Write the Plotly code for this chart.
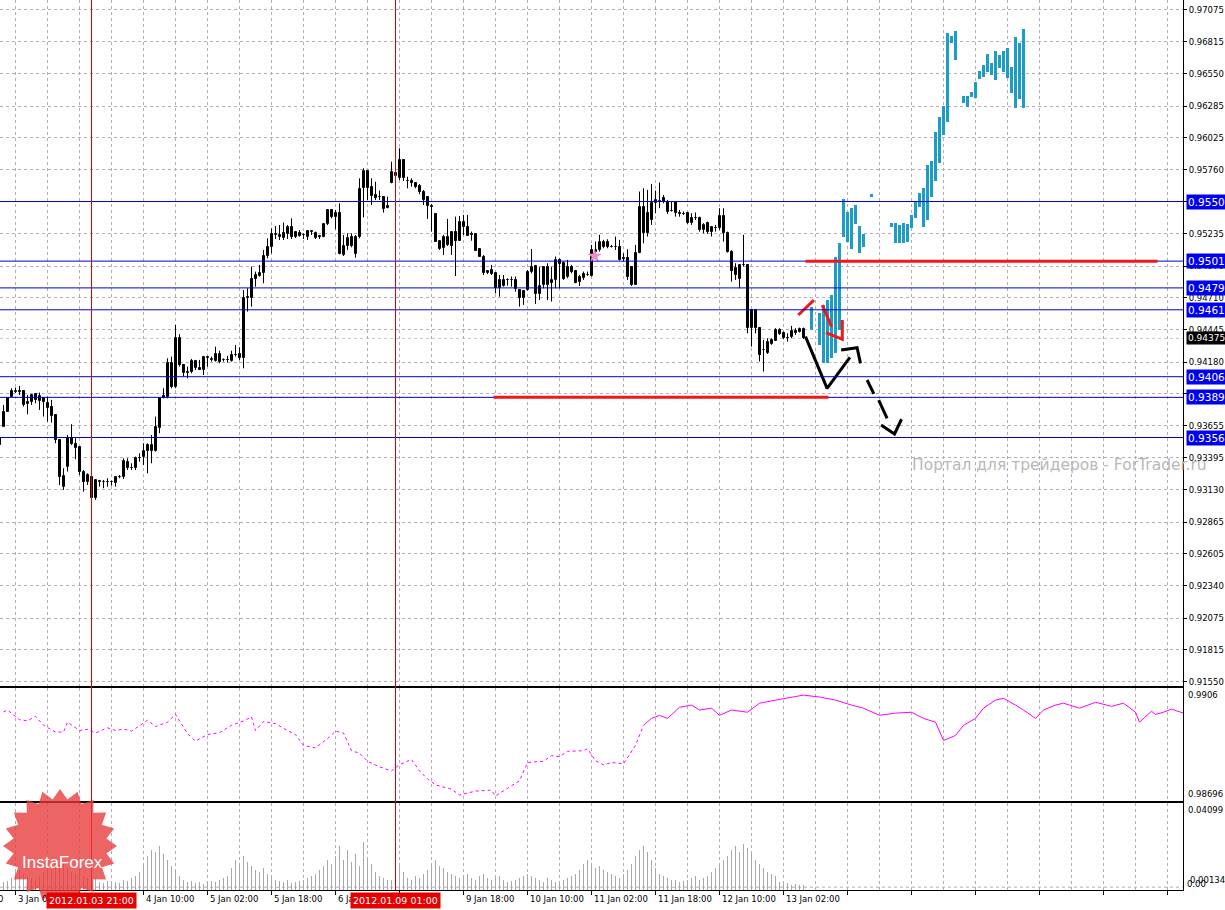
import numpy as np
import plotly.graph_objects as go

# ---------------- data ----------------
bar_idx = list(range(-4, 198))  # hourly bars, 0 = 3 Jan 02:00

opens = [0.93560, 0.93650, 0.93773, 0.93891, 0.93937, 0.93940, 0.93943, 0.93833, 0.93850, 0.93918, 0.93863,
         0.93888, 0.93841, 0.93814, 0.93746, 0.93540, 0.93156, 0.93321, 0.93554, 0.93507, 0.93485,
         0.93280, 0.93192, 0.93239, 0.93060, 0.93192, 0.93195, 0.93192, 0.93195, 0.93184, 0.93236,
         0.93233, 0.93362, 0.93307, 0.93307, 0.93395, 0.93403, 0.93450, 0.93499, 0.93450, 0.93636,
         0.93888, 0.93896, 0.94176, 0.93979, 0.94381, 0.94157, 0.94088, 0.94096, 0.94129, 0.94135,
         0.94115, 0.94211, 0.94200, 0.94192, 0.94247, 0.94198, 0.94195, 0.94192, 0.94239, 0.94247,
         0.94211, 0.94705, 0.94710, 0.94861, 0.94888, 0.94915, 0.95052, 0.95124, 0.95223, 0.95212,
         0.95198, 0.95233, 0.95288, 0.95206, 0.95244, 0.95225, 0.95211, 0.95253, 0.95244, 0.95214,
         0.95206, 0.95316, 0.95431, 0.95370, 0.95409, 0.95061, 0.95135, 0.95206, 0.95069, 0.95211,
         0.95609, 0.95751, 0.95622, 0.95554, 0.95535, 0.95535, 0.95444, 0.95650, 0.95713, 0.95691,
         0.95842, 0.95672, 0.95669, 0.95650, 0.95628, 0.95576, 0.95540, 0.95466, 0.95398, 0.95107,
         0.95116, 0.95211, 0.95135, 0.95253, 0.95178, 0.95335, 0.95288, 0.95231, 0.95231, 0.95107,
         0.95047, 0.94910, 0.94937, 0.94915, 0.94792, 0.94806, 0.94852, 0.94855, 0.94855, 0.94773,
         0.94705, 0.94773, 0.94924, 0.94970, 0.94741, 0.94815, 0.94965, 0.94828, 0.94856, 0.95020,
         0.94993, 0.94883, 0.94965, 0.94933, 0.94842, 0.94870, 0.94897, 0.94889, 0.95089, 0.95102,
         0.95130, 0.95171, 0.95130, 0.95125, 0.95125, 0.95034, 0.95034, 0.94965, 0.94815, 0.95075,
         0.95459, 0.95404, 0.95349, 0.95486, 0.95499, 0.95527, 0.95499, 0.95425, 0.95499, 0.95404,
         0.95398, 0.95404, 0.95322, 0.95368, 0.95363, 0.95267, 0.95322, 0.95253, 0.95281, 0.95281,
         0.95382, 0.95245, 0.95089, 0.94952, 0.94861, 0.94979, 0.94979, 0.94459, 0.94610, 0.94459,
         0.94280, 0.94253, 0.94330, 0.94357, 0.94445, 0.94423, 0.94376, 0.94384, 0.94439, 0.94431,
         0.94450]
highs = [0.93560, 0.93828, 0.93888, 0.93965, 0.93970, 0.93984, 0.93943, 0.93910, 0.93910, 0.93918, 0.93929,
         0.93888, 0.93896, 0.93869, 0.93746, 0.93540, 0.93307, 0.93581, 0.93669, 0.93554, 0.93485,
         0.93293, 0.93266, 0.93252, 0.93211, 0.93211, 0.93211, 0.93225, 0.93206, 0.93244, 0.93252,
         0.93389, 0.93389, 0.93348, 0.93403, 0.93430, 0.93513, 0.93513, 0.93581, 0.93732, 0.93888,
         0.93965, 0.94211, 0.94225, 0.94485, 0.94409, 0.94165, 0.94143, 0.94206, 0.94198, 0.94198,
         0.94231, 0.94231, 0.94225, 0.94307, 0.94274, 0.94211, 0.94231, 0.94274, 0.94321, 0.94302,
         0.94773, 0.94787, 0.94965, 0.94924, 0.94979, 0.95102, 0.95198, 0.95280, 0.95299, 0.95307,
         0.95327, 0.95307, 0.95362, 0.95255, 0.95266, 0.95239, 0.95266, 0.95266, 0.95253, 0.95225,
         0.95316, 0.95436, 0.95439, 0.95431, 0.95485, 0.95225, 0.95239, 0.95239, 0.95225, 0.95691,
         0.95773, 0.95759, 0.95691, 0.95663, 0.95590, 0.95535, 0.95540, 0.95828, 0.95740, 0.95938,
         0.95842, 0.95704, 0.95691, 0.95655, 0.95644, 0.95595, 0.95546, 0.95480, 0.95403, 0.95184,
         0.95225, 0.95357, 0.95253, 0.95376, 0.95381, 0.95390, 0.95390, 0.95253, 0.95231, 0.95116,
         0.95061, 0.94937, 0.94979, 0.94915, 0.94896, 0.94896, 0.94869, 0.94883, 0.94883, 0.94773,
         0.94773, 0.94937, 0.95110, 0.94979, 0.94965, 0.94965, 0.94993, 0.94965, 0.95048, 0.95034,
         0.95007, 0.95020, 0.94979, 0.94938, 0.94897, 0.94924, 0.94924, 0.95143, 0.95171, 0.95226,
         0.95185, 0.95190, 0.95143, 0.95212, 0.95185, 0.95075, 0.95108, 0.94965, 0.95143, 0.95582,
         0.95609, 0.95596, 0.95645, 0.95590, 0.95656, 0.95554, 0.95513, 0.95499, 0.95499, 0.95431,
         0.95418, 0.95410, 0.95404, 0.95410, 0.95376, 0.95322, 0.95335, 0.95294, 0.95308, 0.95445,
         0.95445, 0.95253, 0.95102, 0.94993, 0.94979, 0.95226, 0.94979, 0.94610, 0.94610, 0.94459,
         0.94363, 0.94376, 0.94376, 0.94459, 0.94459, 0.94431, 0.94417, 0.94478, 0.94459, 0.94464,
         0.94464]
lows = [0.93444, 0.93650, 0.93773, 0.93891, 0.93924, 0.93910, 0.93814, 0.93751, 0.93828, 0.93841, 0.93787,
        0.93732, 0.93691, 0.93682, 0.93513, 0.93170, 0.93129, 0.93280, 0.93499, 0.93381, 0.93252,
        0.93115, 0.93170, 0.93047, 0.93047, 0.93156, 0.93143, 0.93156, 0.93165, 0.93156, 0.93225,
        0.93219, 0.93293, 0.93293, 0.93293, 0.93362, 0.93334, 0.93266, 0.93348, 0.93444, 0.93595,
        0.93882, 0.93882, 0.93965, 0.93965, 0.94143, 0.94061, 0.94047, 0.94088, 0.94115, 0.94115,
        0.94074, 0.94143, 0.94184, 0.94184, 0.94170, 0.94184, 0.94176, 0.94184, 0.94225, 0.94198,
        0.94129, 0.94595, 0.94636, 0.94800, 0.94883, 0.94828, 0.95033, 0.95074, 0.95192, 0.95184,
        0.95184, 0.95192, 0.95192, 0.95200, 0.95211, 0.95192, 0.95184, 0.95225, 0.95192, 0.95192,
        0.95206, 0.95307, 0.95362, 0.95272, 0.95066, 0.95052, 0.95102, 0.95124, 0.95039, 0.95198,
        0.95370, 0.95513, 0.95472, 0.95513, 0.95513, 0.95409, 0.95444, 0.95650, 0.95697, 0.95677,
        0.95669, 0.95609, 0.95622, 0.95609, 0.95560, 0.95472, 0.95357, 0.95253, 0.95170, 0.95102,
        0.95061, 0.95135, 0.95061, 0.94888, 0.95178, 0.95225, 0.95220, 0.95178, 0.95094, 0.95047,
        0.94896, 0.94904, 0.94896, 0.94746, 0.94718, 0.94800, 0.94809, 0.94800, 0.94759, 0.94636,
        0.94650, 0.94768, 0.94910, 0.94658, 0.94691, 0.94787, 0.94691, 0.94678, 0.94787, 0.94787,
        0.94856, 0.94870, 0.94910, 0.94828, 0.94806, 0.94856, 0.94889, 0.94883, 0.95075, 0.95089,
        0.95116, 0.95116, 0.95122, 0.95102, 0.95015, 0.95007, 0.94856, 0.94806, 0.94815, 0.95075,
        0.95157, 0.95212, 0.95308, 0.95404, 0.95445, 0.95486, 0.95398, 0.95418, 0.95376, 0.95376,
        0.95390, 0.95316, 0.95308, 0.95349, 0.95253, 0.95239, 0.95234, 0.95212, 0.95253, 0.95267,
        0.95171, 0.95081, 0.94842, 0.94856, 0.94787, 0.94965, 0.94417, 0.94308, 0.94417, 0.94185,
        0.94102, 0.94247, 0.94322, 0.94355, 0.94404, 0.94368, 0.94349, 0.94376, 0.94404, 0.94423,
        0.94370]
closes = [0.93500, 0.93773, 0.93888, 0.93943, 0.93940, 0.93937, 0.93828, 0.93850, 0.93910, 0.93869, 0.93902,
          0.93850, 0.93806, 0.93740, 0.93540, 0.93233, 0.93247, 0.93554, 0.93504, 0.93477, 0.93280,
          0.93192, 0.93252, 0.93060, 0.93211, 0.93200, 0.93192, 0.93195, 0.93192, 0.93233, 0.93239,
          0.93370, 0.93307, 0.93310, 0.93395, 0.93389, 0.93450, 0.93499, 0.93450, 0.93644, 0.93888,
          0.93902, 0.94176, 0.93979, 0.94381, 0.94157, 0.94088, 0.94096, 0.94192, 0.94192, 0.94115,
          0.94220, 0.94225, 0.94203, 0.94247, 0.94184, 0.94195, 0.94198, 0.94239, 0.94242, 0.94211,
          0.94705, 0.94718, 0.94861, 0.94896, 0.94915, 0.95055, 0.95129, 0.95231, 0.95231, 0.95228,
          0.95244, 0.95288, 0.95211, 0.95247, 0.95220, 0.95223, 0.95258, 0.95255, 0.95203, 0.95211,
          0.95316, 0.95431, 0.95370, 0.95409, 0.95066, 0.95137, 0.95198, 0.95135, 0.95211, 0.95601,
          0.95751, 0.95609, 0.95548, 0.95532, 0.95537, 0.95439, 0.95464, 0.95740, 0.95735, 0.95842,
          0.95691, 0.95669, 0.95650, 0.95622, 0.95576, 0.95513, 0.95466, 0.95458, 0.95170, 0.95176,
          0.95211, 0.95143, 0.95253, 0.95178, 0.95335, 0.95288, 0.95220, 0.95228, 0.95096, 0.95047,
          0.94910, 0.94929, 0.94904, 0.94792, 0.94855, 0.94855, 0.94855, 0.94852, 0.94781, 0.94705,
          0.94768, 0.94924, 0.94965, 0.94740, 0.94806, 0.94965, 0.94815, 0.94856, 0.95020, 0.94987,
          0.94861, 0.94965, 0.94924, 0.94834, 0.94878, 0.94902, 0.94900, 0.95102, 0.95102, 0.95171,
          0.95171, 0.95130, 0.95128, 0.95123, 0.95020, 0.95031, 0.94883, 0.94815, 0.95075, 0.95459,
          0.95240, 0.95240, 0.95486, 0.95513, 0.95502, 0.95499, 0.95418, 0.95423, 0.95404, 0.95401,
          0.95400, 0.95322, 0.95363, 0.95366, 0.95267, 0.95308, 0.95253, 0.95289, 0.95284, 0.95382,
          0.95245, 0.95089, 0.94933, 0.94897, 0.94979, 0.94982, 0.94459, 0.94610, 0.94459, 0.94239,
          0.94283, 0.94349, 0.94363, 0.94445, 0.94412, 0.94376, 0.94379, 0.94439, 0.94417, 0.94450,
          0.94375]

# later price path shown as cyan range bars
fc_bar = [199, 201, 202, 203, 204, 205, 206, 207, 208, 209, 210, 211, 212, 214,
          219, 220, 221, 222, 223, 224, 225, 226, 227, 228, 229, 230, 231, 232, 233, 234, 235,
          237, 238, 239, 240, 241, 242, 243, 244, 245, 246, 247, 248, 249, 250, 251, 252]
fc_low = [0.94444, 0.94320, 0.94173, 0.94173, 0.94214, 0.94255, 0.94444, 0.95208, 0.95167, 0.95110,
          0.95315, 0.95077, 0.95126, 0.95537,
          0.95291, 0.95159, 0.95159, 0.95159, 0.95167, 0.95282, 0.95365, 0.95455, 0.95291, 0.95348,
          0.95537, 0.95669, 0.95817, 0.96047, 0.96154, 0.96803, 0.96664,
          0.96310, 0.96277, 0.96359, 0.96351, 0.96507, 0.96524, 0.96565, 0.96540, 0.96499, 0.96598,
          0.96565, 0.96516, 0.96392, 0.96269, 0.96343, 0.96269]
fc_high = [0.94633, 0.94584, 0.94649, 0.94690, 0.94731, 0.95044, 0.95159, 0.95521, 0.95414, 0.95447,
           0.95472, 0.95299, 0.95233, 0.95562,
           0.95324, 0.95324, 0.95307, 0.95324, 0.95315, 0.95389, 0.95496, 0.95570, 0.95611, 0.95800,
           0.95833, 0.96072, 0.96195, 0.96285, 0.96884, 0.96861, 0.96901,
           0.96368, 0.96368, 0.96401, 0.96483, 0.96573, 0.96623, 0.96713, 0.96639, 0.96738, 0.96705,
           0.96738, 0.96762, 0.96606, 0.96853, 0.96803, 0.96917]

# horizontal levels
levels = [0.9550, 0.9501, 0.9479, 0.9461, 0.9406, 0.9389, 0.9356]
last_price = 0.94375
price_ticks = [0.97075, 0.96815, 0.96550, 0.96285, 0.96025, 0.95760, 0.95500, 0.95235, 0.94970,
               0.94710, 0.94445, 0.94180, 0.93920, 0.93655, 0.93395, 0.93130, 0.92865, 0.92605,
               0.92340, 0.92075, 0.91815, 0.91550]

# red support/resistance segments (start bar, end bar, price)
red_seg_start = [197.5, 119.5]
red_seg_end = [285.5, 203.25]
red_seg_price = [0.9501, 0.9389]

# hand-drawn arrows
red_arrow_b = [195.7, 199.6, None, 201.7, 204.0, None, 202.6, 206.7, 206.7]
red_arrow_p = [0.94567, 0.94690, None, 0.94649, 0.94471, None, 0.94422, 0.94367, 0.94526]
black_arrow_b = [197.5, 202.9, 208.6, None, 206.4, 210.4, 211.25]
black_arrow_p = [0.94389, 0.93964, 0.94219, None, 0.94279, 0.94298, 0.94170]
black_dash_b = [212.9, 214.6, None, 215.8, 217.9, None, 216.4, 219.75, 221.5]
black_dash_p = [0.94033, 0.93918, None, 0.93868, 0.93718, None, 0.93663, 0.93589, 0.93710]
star_b = [144.75]
star_p = [0.95052]

# indicator window (magenta)
ind1_b = [-3, -2, 1, 3, 5, 7, 10, 12, 13, 16, 18, 20, 23, 25, 27, 29, 33, 35, 38, 40, 43, 45, 48,
          51, 54, 57, 59, 60, 62, 65, 68, 70, 72, 75, 78, 80, 82, 84, 86, 88, 91, 94, 96, 99, 101,
          103, 105, 109, 111, 115, 119, 120, 123, 126, 128, 132, 134, 136, 138, 142, 143, 145, 147,
          149, 152, 155, 157]
ind1_v = [0.98983, 0.98989, 0.98958, 0.98954, 0.98969, 0.98940, 0.98918, 0.98918, 0.98950, 0.98923,
          0.98927, 0.98915, 0.98932, 0.98923, 0.98928, 0.98921, 0.98956, 0.98936, 0.98950, 0.98975,
          0.98913, 0.98889, 0.98910, 0.98916, 0.98940, 0.98954, 0.98967, 0.98923, 0.98952, 0.98945,
          0.98923, 0.98910, 0.98875, 0.98867, 0.98897, 0.98921, 0.98915, 0.98858, 0.98850, 0.98824,
          0.98806, 0.98793, 0.98813, 0.98830, 0.98793, 0.98767, 0.98748, 0.98734, 0.98715, 0.98728,
          0.98731, 0.98712, 0.98737, 0.98761, 0.98820, 0.98824, 0.98842, 0.98839, 0.98856, 0.98858,
          0.98864, 0.98826, 0.98812, 0.98820, 0.98816, 0.98875, 0.98940]
ind2_b = [157, 159, 161, 163, 166, 169, 171, 174, 176, 179, 183, 186, 190, 194, 197, 201, 205, 209,
          212, 216, 220, 224, 227, 230, 232, 235, 237, 240, 242, 245, 247, 250, 252, 255, 257, 260,
          262, 266, 270, 274, 277, 280, 281, 284, 285, 287, 289, 292]
ind2_v = [0.98940, 0.98962, 0.98972, 0.98962, 0.98998, 0.99005, 0.98989, 0.98995, 0.98972, 0.98989,
          0.98982, 0.99011, 0.99021, 0.99031, 0.99037, 0.99031, 0.99021, 0.99005, 0.98995, 0.98972,
          0.98979, 0.98982, 0.98962, 0.98950, 0.98891, 0.98907, 0.98940, 0.98962, 0.98995, 0.99021,
          0.99027, 0.99005, 0.98989, 0.98962, 0.98989, 0.99005, 0.99011, 0.98995, 0.99014, 0.99001,
          0.99011, 0.98982, 0.98950, 0.98985, 0.98975, 0.98982, 0.98992, 0.98979]

# histogram window (grey)
hist_v = [0.0047,
          0.0038, 0.0042, 0.0056, 0.0085, 0.0094, 0.0075, 0.0066, 0.0056, 0.0047, 0.0066,
          0.0085, 0.0103, 0.0094, 0.0132, 0.0150, 0.0122, 0.0103, 0.0085, 0.0075, 0.0094,
          0.0066, 0.0056, 0.0071, 0.0056, 0.0038, 0.0033, 0.0042, 0.0028, 0.0038, 0.0033,
          0.0047, 0.0042, 0.0056, 0.0066, 0.0085, 0.0122, 0.0160, 0.0188, 0.0179, 0.0207,
          0.0169, 0.0141, 0.0113, 0.0094, 0.0066, 0.0047, 0.0038, 0.0042, 0.0033, 0.0038,
          0.0028, 0.0033, 0.0042, 0.0038, 0.0047, 0.0056, 0.0066, 0.0103, 0.0141, 0.0122,
          0.0160, 0.0132, 0.0113, 0.0094, 0.0085, 0.0103, 0.0075, 0.0066, 0.0047, 0.0042,
          0.0038, 0.0047, 0.0033, 0.0038, 0.0042, 0.0047, 0.0056, 0.0066, 0.0075, 0.0094,
          0.0113, 0.0141, 0.0122, 0.0160, 0.0207, 0.0141, 0.0188, 0.0132, 0.0169, 0.0113,
          0.0226, 0.0150, 0.0122, 0.0085, 0.0066, 0.0056, 0.0047, 0.0047, 0.0066, 0.0113,
          0.0085, 0.0056, 0.0047, 0.0066, 0.0056, 0.0075, 0.0094, 0.0122, 0.0141, 0.0113,
          0.0103, 0.0085, 0.0075, 0.0066, 0.0056, 0.0066, 0.0075, 0.0056, 0.0047, 0.0066,
          0.0075, 0.0056, 0.0047, 0.0056, 0.0066, 0.0047, 0.0038, 0.0042, 0.0047, 0.0056,
          0.0066, 0.0075, 0.0066, 0.0056, 0.0047, 0.0038, 0.0056, 0.0047, 0.0038, 0.0042,
          0.0047, 0.0056, 0.0066, 0.0075, 0.0094, 0.0122, 0.0141, 0.0113, 0.0103, 0.0113,
          0.0094, 0.0085, 0.0075, 0.0066, 0.0056, 0.0075, 0.0094, 0.0122, 0.0160, 0.0188,
          0.0207, 0.0179, 0.0141, 0.0103, 0.0075, 0.0066, 0.0056, 0.0047, 0.0047, 0.0038,
          0.0042, 0.0047, 0.0056, 0.0066, 0.0047, 0.0056, 0.0066, 0.0085, 0.0103, 0.0122,
          0.0141, 0.0160, 0.0188, 0.0207, 0.0179, 0.0216, 0.0197, 0.0169, 0.0141, 0.0122,
          0.0103, 0.0085, 0.0075, 0.0066, 0.0038, 0.0028, 0.0033, 0.0024, 0.0028, 0.0024, 0.0024]

time_tick_bars = [0, 32, 48, 64, 80, 112, 128, 144, 160, 176, 192]
time_tick_text = ["3 Jan 02:00", "4 Jan 10:00", "5 Jan 02:00", "5 Jan 18:00",
                  "6 Jan 10:00", "9 Jan 18:00", "10 Jan 10:00", "11 Jan 02:00",
                  "11 Jan 18:00", "12 Jan 10:00", "13 Jan 02:00"]
marker_bars = [19, 95]
marker_text = ["2012.01.03 21:00", "2012.01.09 01:00"]

# ---------------- figure ----------------
W, H = 1225, 910
ML, MR, MT, MB = 0, 42, 0, 20
PW, PH = W - ML - MR, H - MT - MB
X_RANGE = [-3.875, 291.875]
Y_MAIN = [0.91517, 0.97157]
Y_IND = [0.98696, 0.9906]
Y_HIST = [0, 0.04099]

FONT = "DejaVu Sans"
GRIDC = "#b9a9bb"

fig = go.Figure()

# candle wicks
wick_x, wick_y = [], []
for b, h, l in zip(bar_idx, highs, lows):
    wick_x += [b, b, None]
    wick_y += [l, h, None]
fig.add_trace(go.Scatter(x=wick_x, y=wick_y, mode="lines", line=dict(color="black", width=1),
                         xaxis="x", yaxis="y", showlegend=False, hoverinfo="skip"))
# candle bodies
up = [(b, o, c) for b, o, c in zip(bar_idx, opens, closes) if c >= o]
dn = [(b, o, c) for b, o, c in zip(bar_idx, opens, closes) if c < o]
fig.add_trace(go.Bar(x=[u[0] for u in up], base=[u[1] for u in up],
                     y=[u[2] - u[1] for u in up], width=0.5,
                     marker=dict(color="white", line=dict(color="black", width=1)),
                     xaxis="x", yaxis="y", showlegend=False, hoverinfo="skip"))
fig.add_trace(go.Bar(x=[d[0] for d in dn], base=[d[2] for d in dn],
                     y=[d[1] - d[2] for d in dn], width=0.5,
                     marker=dict(color="black", line=dict(color="black", width=1)),
                     xaxis="x", yaxis="y", showlegend=False, hoverinfo="skip"))

fig.add_trace(go.Bar(
    x=fc_bar, base=fc_low, y=[h - l for h, l in zip(fc_high, fc_low)],
    width=0.75, marker=dict(color="#1d9dc6", line=dict(width=0)),
    xaxis="x", yaxis="y", showlegend=False, hoverinfo="skip"))

fig.add_trace(go.Scatter(x=red_arrow_b, y=red_arrow_p, mode="lines",
                         line=dict(color="#f01818", width=3), xaxis="x", yaxis="y",
                         showlegend=False, hoverinfo="skip"))
fig.add_trace(go.Scatter(x=black_arrow_b, y=black_arrow_p, mode="lines",
                         line=dict(color="black", width=3), xaxis="x", yaxis="y",
                         showlegend=False, hoverinfo="skip"))
fig.add_trace(go.Scatter(x=black_dash_b, y=black_dash_p, mode="lines",
                         line=dict(color="black", width=3), xaxis="x", yaxis="y",
                         showlegend=False, hoverinfo="skip"))
fig.add_trace(go.Scatter(x=star_b, y=star_p, mode="markers",
                         marker=dict(symbol="star", size=11, color="#f08ccc",
                                     line=dict(width=0)),
                         xaxis="x", yaxis="y", showlegend=False, hoverinfo="skip"))

fig.add_trace(go.Scatter(x=ind1_b, y=ind1_v, mode="lines",
                         line=dict(color="#ff00ff", width=1, dash="3px,3px"),
                         xaxis="x2", yaxis="y2", showlegend=False, hoverinfo="skip"))
fig.add_trace(go.Scatter(x=ind2_b, y=ind2_v, mode="lines",
                         line=dict(color="#ff00ff", width=1),
                         xaxis="x2", yaxis="y2", showlegend=False, hoverinfo="skip"))

fig.add_trace(go.Bar(x=bar_idx, y=hist_v, width=0.25,
                     marker=dict(color="#a8a8a8", line=dict(width=0)),
                     xaxis="x3", yaxis="y3", showlegend=False, hoverinfo="skip"))

shapes = []
for lv in levels:
    shapes.append(dict(type="line", xref="paper", yref="y", x0=0, x1=1, y0=lv, y1=lv,
                       line=dict(color="#0000d8", width=1), layer="above"))
shapes.append(dict(type="line", xref="paper", yref="y", x0=0, x1=1, y0=last_price, y1=last_price,
                   line=dict(color="#c4c4c4", width=1, dash="dot"), layer="below"))
for s, e, p in zip(red_seg_start, red_seg_end, red_seg_price):
    shapes.append(dict(type="line", xref="x", yref="y", x0=s, x1=e, y0=p, y1=p,
                       line=dict(color="#f01818", width=3), layer="above"))
for b in marker_bars:
    shapes.append(dict(type="line", xref="x", yref="paper", x0=b, x1=b, y0=0, y1=1,
                       line=dict(color="#e00000", width=1), layer="above"))
shapes.append(dict(type="line", xref="paper", yref="y3", x0=0, x1=1, y0=0.00134, y1=0.00134,
                   line=dict(color=GRIDC, width=1, dash="3px,3px"), layer="below"))

# InstaForex badge (decoration)
ang = np.linspace(0, 2 * np.pi, 41)[:-1]
rad = np.where(np.arange(40) % 2 == 0, 57, 47)
pts = [(r * np.cos(a), r * np.sin(a)) for r, a in zip(rad, ang)]
path = "M " + " L ".join(f"{px:.1f},{py:.1f}" for px, py in pts) + " Z"
shapes.append(dict(type="path", xref="paper", yref="paper", xsizemode="pixel", ysizemode="pixel",
                   xanchor=60 / PW, yanchor=(PH - 846) / PH, path=path,
                   fillcolor="rgba(232,56,56,0.78)", line=dict(width=0), layer="above"))

ann = []
for b, t in zip(time_tick_bars, time_tick_text):
    ann.append(dict(x=b, xref="x", y=0, yref="paper", yshift=-2, text=t, showarrow=False,
                    xanchor="left", yanchor="top", xshift=0,
                    font=dict(family=FONT, size=8.5, color="black")))
ann.append(dict(x=0, xref="paper", y=0, yref="paper", yshift=-2, xshift=5, text="2 Jan 10:00",
                showarrow=False, xanchor="right", yanchor="top",
                font=dict(family=FONT, size=8.5, color="black")))
for b, t in zip(marker_bars, marker_text):
    ann.append(dict(x=b, xref="x", y=0, yref="paper", yshift=-2, text=t, showarrow=False,
                    xanchor="center", yanchor="top", bgcolor="#e80000", borderpad=2,
                    font=dict(family=FONT, size=9.5, color="white")))
for lv in levels:
    ann.append(dict(x=1, xref="paper", y=lv, yref="y", xshift=3, text=f"{lv:.4f}",
                    showarrow=False, xanchor="left", yanchor="middle", bgcolor="#0000f0",
                    borderpad=1, font=dict(family=FONT, size=10.5, color="white")))
ann.append(dict(x=1, xref="paper", y=last_price, yref="y", xshift=3, text=f"{last_price:.5f}",
                showarrow=False, xanchor="left", yanchor="middle", bgcolor="black",
                borderpad=1, font=dict(family=FONT, size=9, color="white")))
ann.append(dict(x=1, xref="paper", y=Y_IND[1], yref="y2", xshift=3, text="0.9906",
                showarrow=False, xanchor="left", yanchor="top",
                font=dict(family=FONT, size=8.5, color="black")))
ann.append(dict(x=1, xref="paper", y=Y_IND[0], yref="y2", xshift=3, text="0.98696",
                showarrow=False, xanchor="left", yanchor="bottom",
                font=dict(family=FONT, size=8.5, color="black")))
ann.append(dict(x=1, xref="paper", y=Y_HIST[1], yref="y3", xshift=3, text="0.04099",
                showarrow=False, xanchor="left", yanchor="top",
                font=dict(family=FONT, size=8.5, color="black")))
ann.append(dict(x=1, xref="paper", y=Y_HIST[0], yref="y3", xshift=2, yshift=-1, text="0.00",
                showarrow=False, xanchor="left", yanchor="bottom",
                font=dict(family=FONT, size=8.5, color="black")))
ann.append(dict(x=1, xref="paper", y=Y_HIST[0], yref="y3", xshift=5, yshift=3, text="0.00134",
                showarrow=False, xanchor="left", yanchor="bottom",
                font=dict(family=FONT, size=8.5, color="black")))
ann.append(dict(x=910 / PW, xref="paper", y=(PH - 465) / PH, yref="paper",
                text="Портал для трейдеров - ForTrader.ru", showarrow=False,
                xanchor="left", yanchor="middle",
                font=dict(family=FONT, size=15.5, color="#b8b8b8")))
ann.append(dict(x=62 / PW, xref="paper", y=(PH - 862) / PH, yref="paper", text="InstaForex",
                showarrow=False, xanchor="center", yanchor="middle",
                font=dict(family="Liberation Sans", size=17, color="white")))

xcommon = dict(range=X_RANGE, showticklabels=False, tick0=0, dtick=16,
               showgrid=True, gridcolor=GRIDC, griddash="3px,3px", gridwidth=1,
               minor=dict(tick0=0, dtick=8, showgrid=True, gridcolor=GRIDC,
                          griddash="3px,3px", gridwidth=1),
               showline=True, mirror=True, linecolor="black", linewidth=1,
               zeroline=False, rangeslider=dict(visible=False), fixedrange=True)

fig.update_layout(
    width=W, height=H, margin=dict(l=ML, r=MR, t=MT, b=MB),
    paper_bgcolor="white", plot_bgcolor="white", showlegend=False,
    barmode="overlay", bargap=0,
    xaxis=dict(domain=[0, 1], anchor="y", ticks="", **xcommon),
    xaxis2=dict(domain=[0, 1], anchor="y2", matches="x", ticks="", **xcommon),
    xaxis3=dict(domain=[0, 1], anchor="y3", matches="x", ticks="outside", ticklen=4,
                tickcolor="black", **xcommon),
    yaxis=dict(domain=[(PH - 686) / PH, 1], range=Y_MAIN, side="right", anchor="x",
               tickvals=price_ticks, ticktext=[f"{v:.5f}" for v in price_ticks],
               ticks="outside", ticklen=3, tickcolor="black",
               tickfont=dict(family=FONT, size=8.5, color="black"),
               showgrid=True, gridcolor=GRIDC, griddash="3px,3px", gridwidth=1,
               showline=True, mirror=True, linecolor="black", linewidth=1,
               zeroline=False, fixedrange=True),
    yaxis2=dict(domain=[(PH - 801) / PH, (PH - 688) / PH], range=Y_IND, side="right",
                anchor="x2", showticklabels=False, ticks="", showgrid=False,
                showline=True, mirror=True, linecolor="black", linewidth=1,
                zeroline=False, fixedrange=True),
    yaxis3=dict(domain=[0, (PH - 803) / PH], range=Y_HIST, side="right", anchor="x3",
                showticklabels=False, ticks="", showgrid=False,
                showline=True, mirror=True, linecolor="black", linewidth=1,
                zeroline=False, fixedrange=True),
    shapes=shapes, annotations=ann,
)

fig.write_html("out.html", config={"displayModeBar": False},
               post_script="document.body.style.margin='0px';document.body.style.overflow='hidden';")
